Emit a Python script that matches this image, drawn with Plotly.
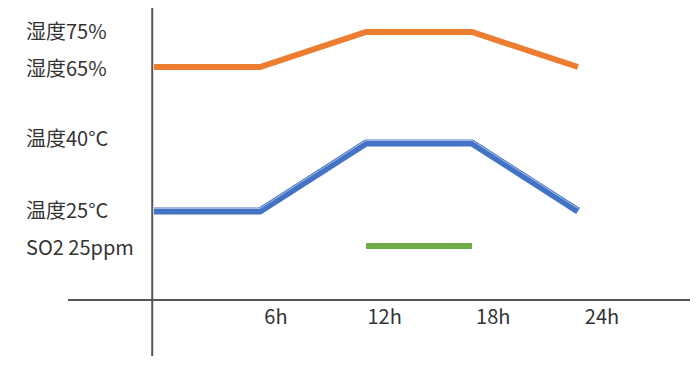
import plotly.graph_objects as go

# ---- data ----
hours = [0, 6, 12, 18, 24]
humidity = [65, 65, 75, 75, 65]          # %
temperature = [25, 25, 40, 40, 25]       # °C
so2_hours = [12, 18]
so2 = [25, 25]                            # ppm

x_tick_vals = [6, 12, 18, 24]
x_tick_text = ["6h", "12h", "18h", "24h"]

hum_labels = [(75, "湿度75%"), (65, "湿度65%")]
temp_labels = [(40, "温度40°C"), (25, "温度25°C")]
so2_labels = [(25, "SO2 25ppm")]

ORANGE = "#ED7D31"
BLUE = "#4472C4"
BLUE_HI = "#A8C0EA"
GREEN = "#70AD47"
AXIS = "#555555"
TEXT = "#333333"
FONT = "Noto Sans CJK JP"
FS = 20

# page body has an 8px margin; figure coordinates are offset by it
OFF = 8
W, H = 692, 358
ML, MR, MT, MB = 68 - OFF, W - (690 - OFF), 0, H - (299 - OFF)
plot_h = H - MT - MB

fig = go.Figure()

fig.add_trace(go.Scatter(x=hours, y=humidity, mode="lines", yaxis="y",
                         line=dict(color=ORANGE, width=6), hoverinfo="skip"))
fig.add_trace(go.Scatter(x=hours, y=temperature, mode="lines", yaxis="y2",
                         line=dict(color=BLUE, width=7), hoverinfo="skip"))
fig.add_trace(go.Scatter(x=hours, y=temperature, mode="lines", yaxis="y4",
                         line=dict(color=BLUE_HI, width=1), hoverinfo="skip"))
fig.add_trace(go.Scatter(x=so2_hours, y=so2, mode="lines", yaxis="y3",
                         line=dict(color=GREEN, width=6), hoverinfo="skip"))
# invisible trace carrying the tick-label axis
fig.add_trace(go.Scatter(x=x_tick_vals, y=[None] * len(x_tick_vals),
                         xaxis="x2", mode="lines", hoverinfo="skip"))

hum_range = [-1.29, 81.86]
temp_range = [5.59, 69.78]
shift = 2.6 / 4.533
temp_hi_range = [temp_range[0] - shift, temp_range[1] - shift]
so2_range = [0, 137.3]

hidden = dict(visible=False, fixedrange=True)
fig.update_layout(
    width=W, height=H,
    margin=dict(l=ML, r=MR, t=MT, b=MB, pad=0),
    paper_bgcolor="white", plot_bgcolor="white",
    showlegend=False,
    font=dict(family=FONT, size=FS, color=TEXT),
    xaxis=dict(range=[-4.868, 30.34], showgrid=False, zeroline=False,
               showline=True, linecolor=AXIS, linewidth=2,
               showticklabels=False, ticks=""),
    xaxis2=dict(range=[-5.48, 28.86], overlaying="x", side="bottom",
                anchor="y", showgrid=False, zeroline=False, showline=False,
                tickvals=x_tick_vals, ticktext=x_tick_text, ticks="",
                ticklabelstandoff=4,
                tickfont=dict(family=FONT, size=FS, color=TEXT)),
    yaxis=dict(range=hum_range, **hidden),
    yaxis2=dict(range=temp_range, overlaying="y", **hidden),
    yaxis3=dict(range=so2_range, overlaying="y", **hidden),
    yaxis4=dict(range=temp_hi_range, overlaying="y", **hidden),
)

# vertical axis line, extending below the horizontal axis
fig.add_shape(type="line", xref="x", yref="paper", x0=-0.1, x1=-0.1,
              y0=-(356 - 299) / plot_h, y1=1.0,
              line=dict(color=AXIS, width=2), layer="below")

label_x = (24 - 68) / (690 - 68)
label_shift = {"湿度75%": 2, "湿度65%": 0, "温度40°C": 6, "温度25°C": 2, "SO2 25ppm": 0}
for yref, labels in (("y", hum_labels), ("y2", temp_labels), ("y3", so2_labels)):
    for val, txt in labels:
        fig.add_annotation(x=label_x, xref="paper", y=val, yref=yref,
                           text=txt, showarrow=False, xanchor="left",
                           yanchor="middle", yshift=label_shift[txt],
                           font=dict(family=FONT, size=FS, color=TEXT))

fig.write_html("out.html")
